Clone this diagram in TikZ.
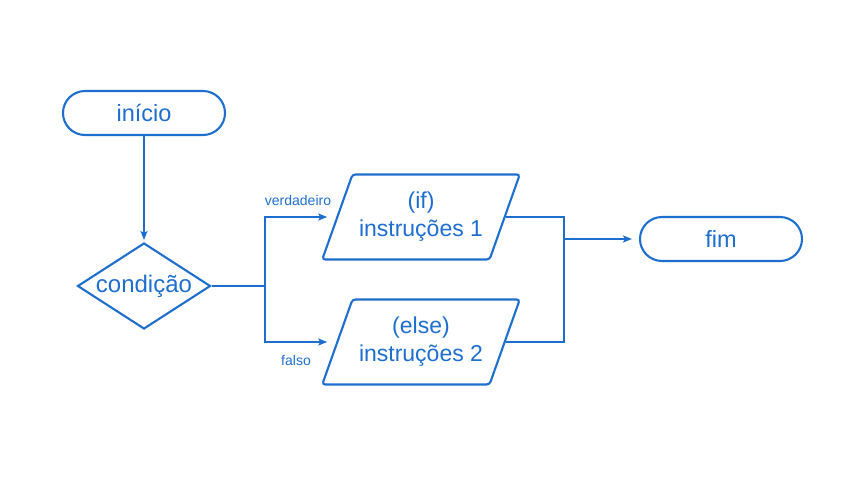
\documentclass[tikz,border=0pt]{standalone}
\usepackage{fontspec}
\setmainfont{Liberation Sans}
\usetikzlibrary{shapes.geometric,arrows.meta}
\definecolor{fcblue}{RGB}{30,110,208}
\newcommand{\twolines}[2]{\raisebox{-4pt}{\begin{tabular}{@{}c@{}}#1\\#2\end{tabular}}}
\begin{document}
\begin{tikzpicture}[x=1pt,y=-1pt,
  every node/.style={text=fcblue},
  box/.style={draw=fcblue,line width=2.1pt},
  term/.style={box,rectangle,rounded corners=22pt,minimum width=162pt,minimum height=44pt,inner sep=0pt,font=\fontsize{23.5}{28}\selectfont},
  cond/.style={box,diamond,aspect=1.55,minimum width=133pt,minimum height=86pt,inner sep=0pt,font=\fontsize{24}{28}\selectfont},
  io/.style={box,trapezium,trapezium left angle=64,trapezium right angle=116,trapezium stretches=true,
     minimum width=198pt,minimum height=85pt,inner sep=0pt,rounded corners=3pt,font=\fontsize{23}{28}\selectfont},
  conn/.style={draw=fcblue,line width=2.1pt},
  arr/.style={conn,-{Stealth[length=9pt,width=7pt,inset=2pt]}},
  lbl/.style={font=\fontsize{14}{16}\selectfont}]
\useasboundingbox (0,0) rectangle (854,480);
\node[term] (inicio) at (144,113) {início};
\node[cond] (cnd) at (144,286) {condição};
\node[io] (ifn) at (421,217) {\twolines{(if)}{instruções 1}};
\node[io] (elsen) at (421,342) {\twolines{(else)}{instruções 2}};
\node[term] (fim) at (721,239) {fim};
\node[lbl] (vlab) at (298,200) {verdadeiro};
\node[lbl] (flab) at (296,360) {falso};
\coordinate (jl) at (265,286);
\coordinate (jr) at (564,239);
\draw[arr,shorten >=2pt] (inicio.south) -- (cnd.north);
\draw[conn] (cnd.east) -- (jl);
\draw[arr,shorten >=9pt] (jl) |- (ifn.west);
\draw[arr,shorten >=9pt] (jl) |- (elsen.west);
\draw[conn] (ifn.east) -| (jr);
\draw[conn] (elsen.east) -| (jr);
\draw[arr,shorten >=7pt] (jr) -- (fim.west);
\end{tikzpicture}
\end{document}
